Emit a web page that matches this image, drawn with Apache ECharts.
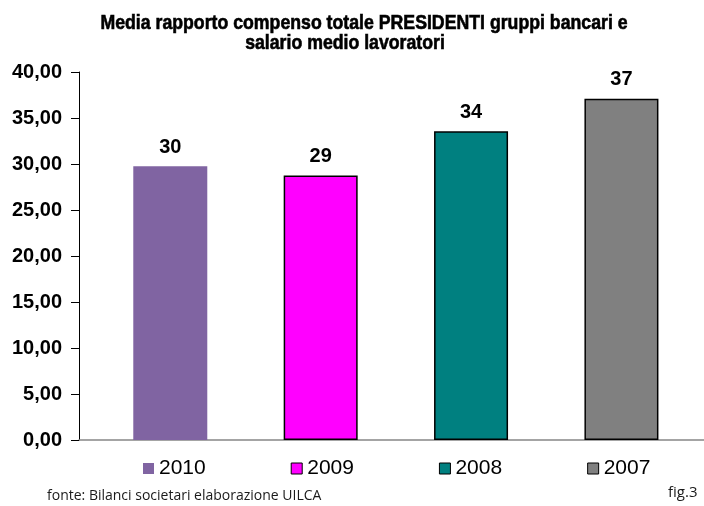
<!DOCTYPE html>
<html>
<head>
<meta charset="utf-8">
<script src="https://cdn.jsdelivr.net/npm/echarts@6/dist/echarts.min.js"></script>
<style>
  html, body { margin: 0; padding: 0; background: #ffffff; }
  #chart { width: 704px; height: 506px; }
</style>
</head>
<body>
<div id="chart"></div>
<script>
// Anni (una barra per anno, con voce di legenda)
const categories = ['2010', '2009', '2008', '2007'];
// Rapporto medio compenso totale presidenti / salario medio lavoratori
const values = [29.75, 28.75, 33.55, 37.1];
// Asse verticale
const yMin = 0;
const yMax = 40;
const yStep = 5;

const titleLines = [
  'Media rapporto compenso totale PRESIDENTI gruppi bancari e',
  'salario medio lavoratori'
];
const sourceText = 'fonte: Bilanci societari elaborazione UILCA';
const figureText = 'fig.3';

const colors = ['#8064A2', '#FF00FF', '#008080', '#808080'];
const borders = [0, 1.5, 1.5, 1.5];

const chart = echarts.init(document.getElementById('chart'));

const series = categories.map((name, i) => ({
  name: name,
  type: 'bar',
  barWidth: 74,
  barGap: '-100%',
  data: [[i, values[i]]],
  itemStyle: {
    color: colors[i],
    borderColor: '#000000',
    borderWidth: borders[i]
  },
  label: {
    show: true,
    position: 'top',
    distance: 9,
    color: '#000000',
    fontFamily: '"Liberation Sans", Arial, sans-serif',
    fontWeight: 'bold',
    fontSize: 20,
    formatter: p => String(Math.round(p.value[1]))
  }
}));

// Titolo su due righe, in carattere stretto (compresso in orizzontale)
const titleFont = '900 20px "Liberation Sans", Arial, sans-serif';

chart.setOption({
  animation: false,
  backgroundColor: '#ffffff',
  graphic: [
    {
      type: 'text',
      x: 364,
      y: 13,
      scaleX: 0.885,
      style: {
        text: titleLines[0], font: titleFont, fill: '#000000',
        stroke: '#000000', lineWidth: 0.6,
        textAlign: 'center', textVerticalAlign: 'top'
      }
    },
    {
      type: 'text',
      x: 345,
      y: 33,
      scaleX: 0.885,
      style: {
        text: titleLines[1], font: titleFont, fill: '#000000',
        stroke: '#000000', lineWidth: 0.6,
        textAlign: 'center', textVerticalAlign: 'top'
      }
    },
    {
      type: 'text',
      x: 47,
      y: 489,
      style: { text: sourceText, font: 'normal 14px "Open Sans", sans-serif', fill: '#1a1a1a', textVerticalAlign: 'top' }
    },
    {
      type: 'text',
      x: 668,
      y: 485,
      style: { text: figureText, font: 'normal 15px "Open Sans", sans-serif', fill: '#1a1a1a', textVerticalAlign: 'top' }
    }
  ],
  legend: {
    left: 143,
    top: 458,
    padding: 0,
    itemWidth: 11,
    itemHeight: 11,
    itemGap: 85,
    icon: 'rect',
    selectedMode: false,
    data: categories.map((name, i) => ({
      name: name,
      itemStyle: { color: colors[i], borderColor: '#000000', borderWidth: borders[i] ? 1 : 0 }
    })),
    textStyle: {
      fontFamily: '"Liberation Sans", Arial, sans-serif',
      fontSize: 21,
      color: '#000000'
    }
  },
  grid: {
    left: 79,
    right: 0,
    top: 72,
    bottom: 66,
    containLabel: false
  },
  xAxis: {
    type: 'value',
    min: -0.607,
    max: 3.549,
    splitLine: { show: false },
    axisTick: { show: false },
    axisLabel: { show: false },
    axisLine: { show: true, onZero: false, lineStyle: { color: '#868686', width: 1.5 } }
  },
  yAxis: {
    type: 'value',
    min: yMin,
    max: yMax,
    interval: yStep,
    splitLine: { show: false },
    axisLine: { show: true, onZero: false, lineStyle: { color: '#000000', width: 1 } },
    axisTick: { show: true, inside: false, length: 8, lineStyle: { color: '#000000' } },
    axisLabel: {
      margin: 17,
      color: '#000000',
      fontFamily: '"Liberation Sans", Arial, sans-serif',
      fontWeight: 'bold',
      fontSize: 20,
      formatter: v => v.toFixed(2).replace('.', ',')
    }
  },
  series: series
});
</script>
</body>
</html>
